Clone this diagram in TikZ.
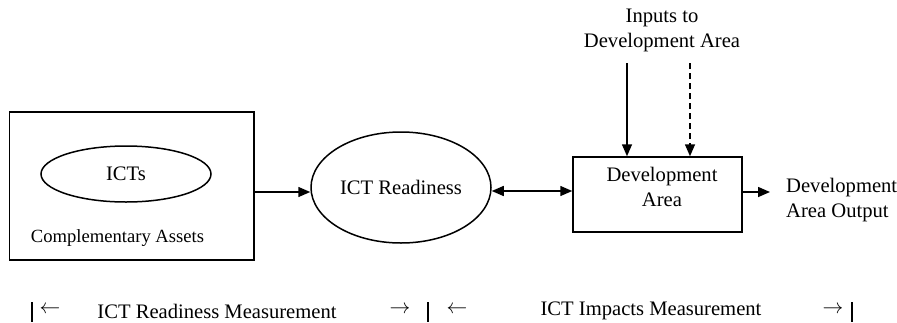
\documentclass[tikz,border=0pt]{standalone}
\usepackage{fontspec}
\setmainfont{Liberation Serif}
\usetikzlibrary{arrows.meta,shapes.geometric,calc}

\tikzset{
  every picture/.style={x=1pt,y=-1pt},
  main/.style={font=\fontsize{20.6}{25}\selectfont},
  small/.style={font=\fontsize{18.6}{22}\selectfont},
  frame/.style={draw,line width=1.5pt,inner sep=0pt},
  oval/.style={draw,ellipse,line width=1.5pt,inner sep=0pt,main},
  conn/.style={line width=1.5pt,-{Triangle[length=12pt,width=10pt]}},
  both/.style={line width=1.5pt,{Triangle[length=12pt,width=10pt]}-{Triangle[length=12pt,width=10pt]}},
  plain/.style={inner sep=0pt,align=center},
  bar/.style={line width=1.2pt}
}

\begin{document}
\begin{tikzpicture}
  \useasboundingbox (0,0) rectangle (897,322);

  % left block: complementary assets containing the ICTs
  \node[frame,minimum width=244.5pt,minimum height=148pt] (cab) at (131.75,186) {};
  \node[oval,minimum width=170pt,minimum height=56pt] (icts) at (126,174) {ICTs};
  \node[plain,small] (cat) at (117.5,238) {Complementary Assets};

  % readiness
  \node[oval,minimum width=180pt,minimum height=111pt] (ready) at (401,187.5) {ICT Readiness};

  % development area
  \node[frame,minimum width=169pt,minimum height=75pt] (dev) at (657.5,194.5) {};
  \node[plain,main] (devt) at (662,186.5) {Development\\Area};

  % inputs
  \node[plain,main] (inp) at (662,30.5) {Inputs to\\Development Area};
  \coordinate (in1) at (627,63);
  \coordinate (in2) at (690,63);

  % output
  \node[plain,main,anchor=west,align=left] (outp) at (786,200) {Development\\Area Output};
  \coordinate (outtip) at (770,192);

  % connectors
  \draw[conn] ([yshift=-4.5pt]ready.west -| cab.east) -- ([yshift=-4.5pt]ready.west);
  \draw[both] ([yshift=-3.5pt]ready.east) -- ([yshift=-3.5pt]ready.east -| dev.west);
  \draw[conn] (in1) -- (in1 |- dev.north);
  \draw[conn,dashed,dash pattern=on 6pt off 4pt] (in2) -- (in2 |- dev.north);
  \draw[conn] (outtip -| dev.east) -- (outtip);

  % measurement scale
  \coordinate (b1a) at (32,302);   \coordinate (b1b) at (32,322);
  \coordinate (b2a) at (428,302);  \coordinate (b2b) at (428,322);
  \coordinate (b3a) at (852,302);  \coordinate (b3b) at (852,322);
  \draw[bar] (b1a) -- (b1b);
  \draw[bar] (b2a) -- (b2b);
  \draw[bar] (b3a) -- (b3b);
  \node[plain,main] (l1) at (50,310) {$\leftarrow$};
  \node[plain,main] (m1) at (217,311) {ICT Readiness Measurement};
  \node[plain,main] (r1) at (400,310) {$\rightarrow$};
  \node[plain,main] (l2) at (457,310) {$\leftarrow$};
  \node[plain,main] (m2) at (651,311) {ICT Impacts Measurement};
  \node[plain,main] (r2) at (833,310) {$\rightarrow$};
\end{tikzpicture}
\end{document}
